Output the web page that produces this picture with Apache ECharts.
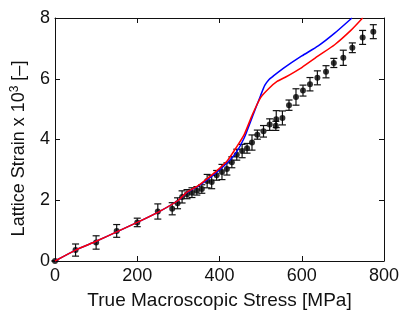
<!DOCTYPE html>
<html>
<head>
<meta charset="utf-8">
<script src="https://cdn.jsdelivr.net/npm/echarts@6/dist/echarts.min.js"></script>
<style>
html,body{margin:0;padding:0;background:#fff;}
#chart{width:407px;height:313px;}
</style>
</head>
<body>
<div id="chart"></div>
<script>
// Measured data (dots with error bars)
const measStress = [0,50,100,150,200,250,285,298,309,321,333,345,357,370,381,393,406,418,430,442,455,467,479,492,507,522,537,538,553,569,586,603,620,638,659,678,701,723,748,774];
const measStrain = [0,0.36,0.61,0.99,1.27,1.63,1.72,1.9,2.11,2.2,2.25,2.31,2.37,2.63,2.6,2.82,2.93,3.03,3.25,3.5,3.62,3.71,3.9,4.16,4.27,4.49,4.45,4.67,4.71,5.13,5.4,5.61,5.82,6.03,6.23,6.52,6.69,7.02,7.36,7.55];
const measErr = [0,0.2,0.22,0.21,0.14,0.25,0.2,0.18,0.2,0.15,0.16,0.14,0.14,0.22,0.22,0.16,0.25,0.2,0.18,0.18,0.22,0.16,0.25,0.15,0.19,0.19,0.15,0.28,0.23,0.17,0.27,0.18,0.22,0.23,0.2,0.15,0.25,0.16,0.23,0.23];

// Model curve (blue)
const blueStress = [0,50,100,150,200,250,300,320,350,380,400,420,440,460,480,500,510,520,530,555,600,640,680,722];
const blueStrain = [0,0.36,0.65,0.96,1.27,1.6,2.0,2.25,2.48,2.78,3.0,3.25,3.56,4.05,4.75,5.45,5.78,5.97,6.08,6.34,6.75,7.08,7.5,8.0];

// Model curve (red)
const redStress = [0,50,100,150,200,250,300,320,350,380,400,420,440,460,480,500,520,540,560,600,640,680,720,748];
const redStrain = [0,0.36,0.65,0.96,1.27,1.6,2.0,2.26,2.5,2.82,3.05,3.32,3.72,4.16,4.82,5.38,5.68,5.91,6.05,6.37,6.75,7.12,7.6,8.0];

// Tick labels
const xTicks = [0,200,400,600,800];
const yTicks = [0,2,4,6,8];

const FONT = "'Liberation Sans', Arial, Helvetica, sans-serif";
const zip = (a,b) => a.map((v,i)=>[v,b[i]]);
const errData = measStress.map((v,i)=>[v, measStrain[i], measErr[i]]);

const chart = echarts.init(document.getElementById('chart'), null, {renderer:'canvas'});

const axisCommon = {
  axisLine:{show:true, onZero:false, lineStyle:{color:'#111', width:1}},
  axisTick:{show:true, inside:true, length:5, lineStyle:{color:'#111'}},
  splitLine:{show:false}
};

chart.setOption({
  animation:false,
  backgroundColor:'#fff',
  grid:{left:55, right:23, top:18, bottom:52, containLabel:false, outerBoundsMode:'none'},
  xAxis:[
    Object.assign({}, axisCommon, {
      type:'value', min:xTicks[0], max:xTicks[xTicks.length-1], interval:200, position:'bottom',
      name:'True Macroscopic Stress [MPa]', nameLocation:'middle', nameGap:30,
      nameTextStyle:{fontFamily:FONT, fontSize:19, color:'#111'},
      axisLabel:{fontFamily:FONT, fontSize:18, color:'#111', margin:6}
    }),
    Object.assign({}, axisCommon, {
      type:'value', min:0, max:800, interval:200, position:'top', axisLabel:{show:false}
    })
  ],
  yAxis:[
    Object.assign({}, axisCommon, {
      type:'value', min:yTicks[0], max:yTicks[yTicks.length-1], interval:2, position:'left',
      name:'{a|Lattice Strain x 10}{s|3}{a| [–]}', nameLocation:'middle', nameGap:25,
      nameTextStyle:{fontFamily:FONT, fontSize:18, color:'#111', padding:[0,18,0,0],
        rich:{a:{fontFamily:FONT, fontSize:18, color:'#111'}, s:{fontFamily:FONT, fontSize:12, color:'#111', padding:[0,0,9,0]}}},
      axisLabel:{fontFamily:FONT, fontSize:18, color:'#111', margin:5}
    }),
    Object.assign({}, axisCommon, {
      type:'value', min:0, max:8, interval:2, position:'right', axisLabel:{show:false}
    })
  ],
  series:[
    {
      type:'custom', xAxisIndex:0, yAxisIndex:0, data:errData, z:2,
      renderItem:function(params, api){
        const x = api.value(0), y = api.value(1), e = api.value(2);
        const t = api.coord([x, y+e]);
        const b = api.coord([x, y-e]);
        const w = 3.5;
        const st = {stroke:'#111', lineWidth:1.2};
        return {type:'group', children:[
          {type:'line', shape:{x1:t[0], y1:t[1], x2:b[0], y2:b[1]}, style:st},
          {type:'line', shape:{x1:t[0]-w, y1:t[1], x2:t[0]+w, y2:t[1]}, style:st},
          {type:'line', shape:{x1:b[0]-w, y1:b[1], x2:b[0]+w, y2:b[1]}, style:st}
        ]};
      }
    },
    {
      type:'scatter', data:zip(measStress, measStrain), symbol:'circle', symbolSize:6,
      itemStyle:{color:'#000'}, z:3
    },
    {
      type:'line', data:zip(blueStress, blueStrain), showSymbol:false, smooth:0.2,
      lineStyle:{color:'#0000ff', width:1.5}, z:4
    },
    {
      type:'line', data:zip(redStress, redStrain), showSymbol:false, smooth:0.2,
      lineStyle:{color:'#ff0000', width:1.5}, z:5
    }
  ]
});
</script>
</body>
</html>
